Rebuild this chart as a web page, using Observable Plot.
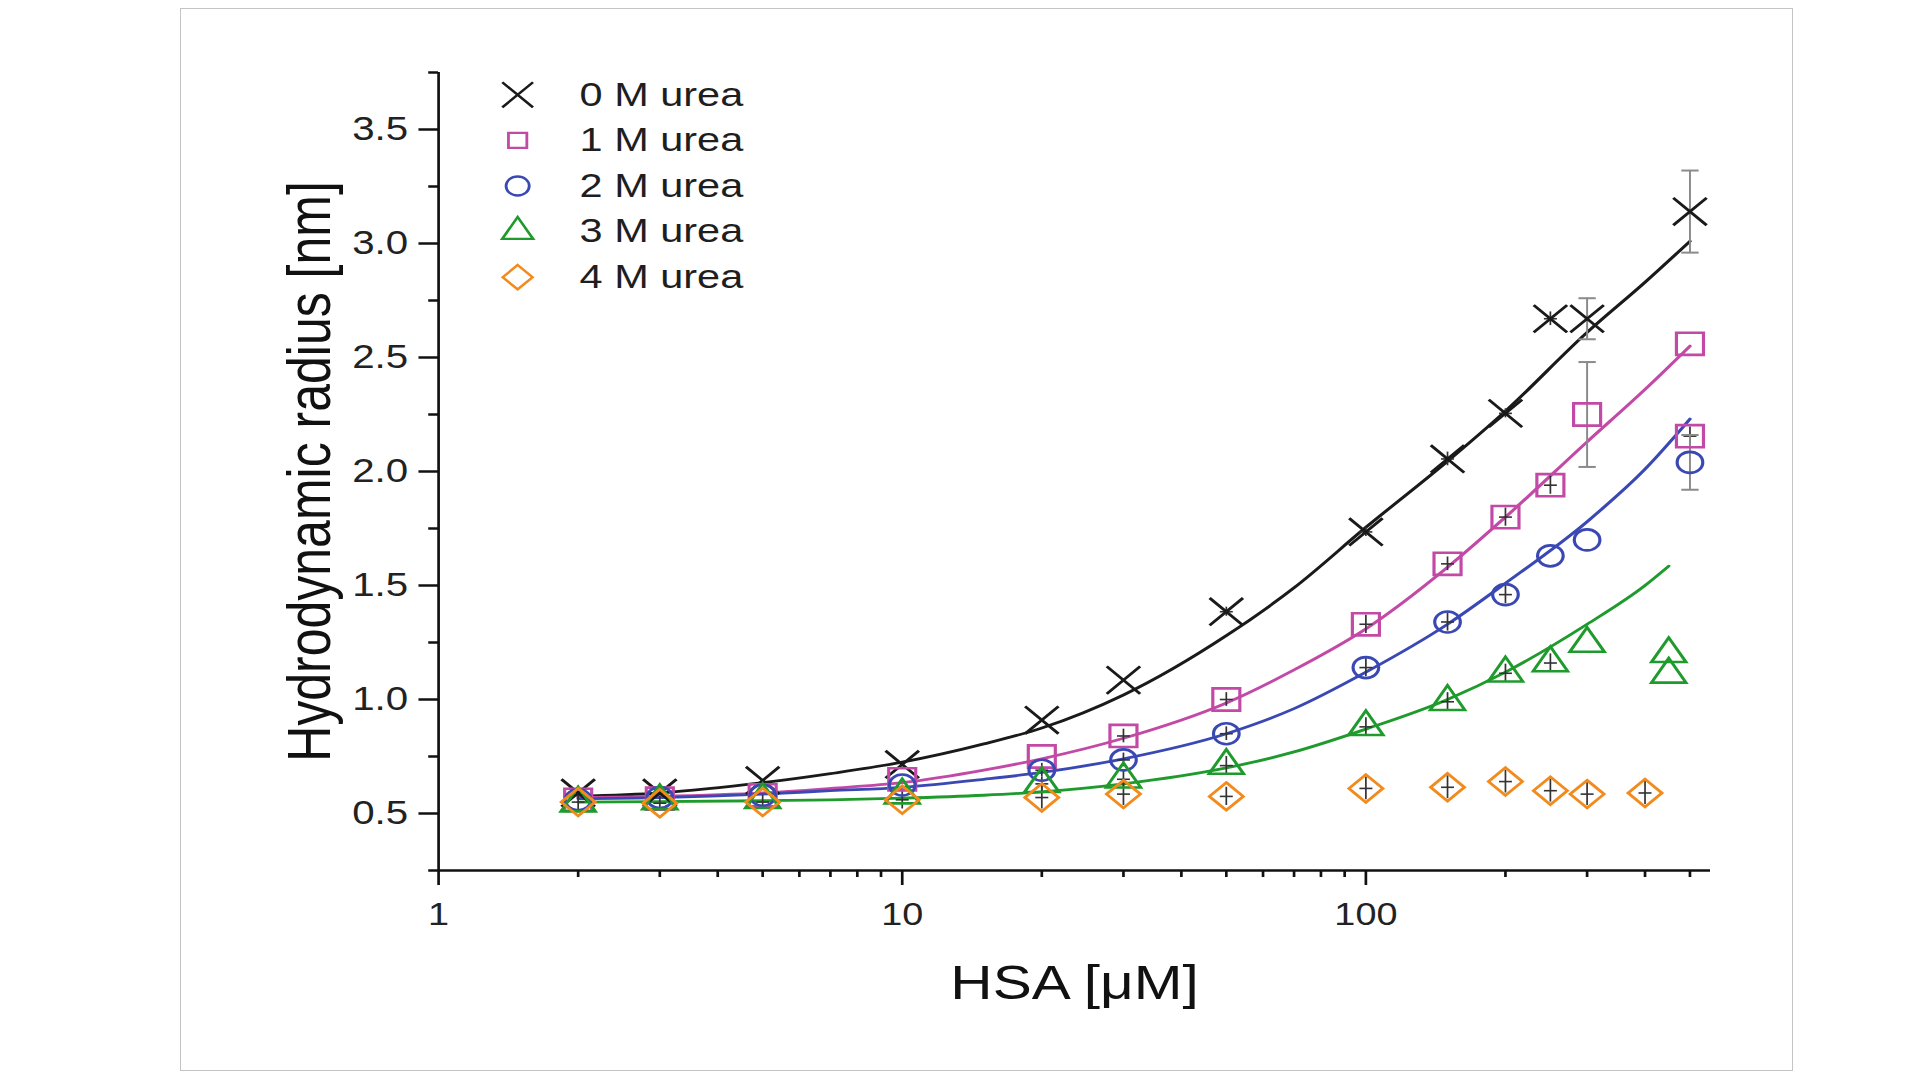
<!DOCTYPE html>
<html>
<head>
<meta charset="utf-8">
<script src="https://cdn.jsdelivr.net/npm/d3@7"></script>
<script src="https://cdn.jsdelivr.net/npm/@observablehq/plot@0.6"></script>
<style>
  html, body { margin: 0; padding: 0; background: #fff; width: 1920px; height: 1080px; overflow: hidden; }
  #frame { position: absolute; left: 180px; top: 8px; width: 1613px; height: 1063px; box-sizing: border-box; border: 1.5px solid #c4c4c4; }
  #chart { position: absolute; left: 0; top: 0; transform: scaleX(1.22); transform-origin: 0 0; }
</style>
</head>
<body>
<div id="frame"></div>
<div id="chart"></div>
<script>
// ---------- data ----------
const seriesNames = ["0 M urea", "1 M urea", "2 M urea", "3 M urea", "4 M urea"];
const seriesColors = ["#1a1a1a", "#c24aa6", "#3a48b4", "#1f9a2c", "#f28a1c"];
const seriesSymbols = ["times", "square", "circle", "triangle", "diamond2"];

const conc0 = [2, 3, 5, 10, 20, 30, 50, 100, 150, 200, 250, 300, 500];
const rh0   = [0.59, 0.59, 0.645, 0.715, 0.91, 1.085, 1.385, 1.735, 2.055, 2.255, 2.67, 2.67, 3.14];
const err0  = [0, 0, 0, 0, 0, 0, 0.02, 0.02, 0.03, 0.02, 0.03, 0.09, 0.18];

const conc1 = [2, 3, 5, 10, 20, 30, 50, 100, 150, 200, 250, 300, 500, 500];
const rh1   = [0.56, 0.565, 0.58, 0.65, 0.75, 0.84, 1.0, 1.33, 1.595, 1.80, 1.94, 2.25, 2.56, 2.155];
const err1  = [0, 0, 0, 0, 0, 0.03, 0.03, 0.04, 0.03, 0.04, 0.04, 0.23, 0, 0.04];

const conc2 = [2, 3, 5, 10, 20, 30, 50, 100, 150, 200, 250, 300, 500];
const rh2   = [0.56, 0.57, 0.58, 0.625, 0.69, 0.735, 0.85, 1.14, 1.34, 1.46, 1.63, 1.70, 2.04];
const err2  = [0, 0, 0, 0, 0.03, 0.03, 0.03, 0.04, 0.04, 0.04, 0, 0, 0.12];

const conc3 = [2, 3, 5, 10, 20, 30, 50, 100, 150, 200, 250, 300, 450, 450];
const rh3   = [0.545, 0.555, 0.56, 0.58, 0.63, 0.65, 0.71, 0.88, 0.99, 1.115, 1.16, 1.245, 1.20, 1.11];
const err3  = [0, 0, 0, 0, 0.03, 0.04, 0.04, 0.04, 0.04, 0.04, 0.04, 0, 0, 0];

const conc4 = [2, 3, 5, 10, 20, 30, 50, 100, 150, 200, 250, 300, 400];
const rh4   = [0.55, 0.545, 0.55, 0.56, 0.57, 0.585, 0.575, 0.61, 0.615, 0.64, 0.60, 0.585, 0.59];
const err4  = [0.04, 0.03, 0.03, 0.04, 0.05, 0.05, 0.04, 0.05, 0.05, 0.05, 0.05, 0.05, 0.05];

// fitted curves (0–3 M urea)
const fitConc = [2, 3, 5, 7, 10, 15, 20, 30, 50, 70, 100, 150, 200, 300, 400, 500];
const fit0 = [0.575, 0.59, 0.635, 0.675, 0.725, 0.805, 0.875, 1.02, 1.28, 1.49, 1.755, 2.045, 2.265, 2.61, 2.83, 3.01];
const fit1 = [0.57, 0.575, 0.59, 0.61, 0.635, 0.69, 0.74, 0.83, 0.985, 1.13, 1.31, 1.58, 1.80, 2.13, 2.36, 2.55];
const fit2 = [0.565, 0.57, 0.585, 0.60, 0.615, 0.65, 0.68, 0.74, 0.85, 0.96, 1.12, 1.33, 1.51, 1.78, 2.01, 2.23];
const fitConc3 = [2, 3, 5, 7, 10, 15, 20, 30, 50, 70, 100, 150, 200, 300, 400, 450];
const fit3 = [0.55, 0.552, 0.556, 0.56, 0.567, 0.58, 0.595, 0.63, 0.70, 0.77, 0.87, 1.00, 1.12, 1.33, 1.50, 1.585];

const xMajorTicks = [1, 10, 100];
const xMinorTicks = [2, 3, 4, 5, 6, 7, 8, 9, 20, 30, 40, 50, 60, 70, 80, 90, 200, 300, 400, 500];
const yMajorTicks = [0.5, 1.0, 1.5, 2.0, 2.5, 3.0, 3.5];
const yMinorTicks = [0.25, 0.75, 1.25, 1.75, 2.25, 2.75, 3.25, 3.75];

const xTitle = "HSA [μM]";
const yTitle = "Hydrodynamic radius [nm]";

// ---------- build tables ----------
const concs = [conc0, conc1, conc2, conc3, conc4];
const rhs = [rh0, rh1, rh2, rh3, rh4];
const errs = [err0, err1, err2, err3, err4];
const fits = [[fitConc, fit0], [fitConc, fit1], [fitConc, fit2], [fitConc3, fit3]];
const markerR = [12.5, 12.5, 10.5, 10.5, 12.5];
const legendR = [11.5, 8.5, 9.5, 9.4, 11];

const points = seriesNames.map((s, i) => concs[i].map((c, j) => ({s, c, v: rhs[i][j], e: errs[i][j]})));
const fitRows = fits.map(([cs, vs], i) => cs.map((c, j) => ({s: seriesNames[i], c, v: vs[j]})));

const hline = {draw(context, size) { const w = Math.sqrt(size) / 2; context.moveTo(-w, 0); context.lineTo(w, 0); }};

const SX = 1.22;
const W = Math.round(1920 / SX);
const H = 1080;

const marks = [];

// axis lines
marks.push(Plot.ruleY([0.25], {stroke: "#111", strokeWidth: 2.5}));
marks.push(Plot.ruleX([1], {stroke: "#111", strokeWidth: 2.2}));

// axes
marks.push(Plot.axisX(xMajorTicks, {tickSize: 15, tickPadding: 17, fontSize: 31, tickFormat: d => String(d), stroke: "#111", strokeWidth: 2.2, fill: "#222", label: null}));
marks.push(Plot.axisX(xMinorTicks, {tickSize: 7, tickFormat: () => "", stroke: "#111", strokeWidth: 2.2, label: null}));
marks.push(Plot.axisY(yMajorTicks, {tickSize: 16, tickPadding: 9, fontSize: 33, tickFormat: d3.format(".1f"), stroke: "#111", strokeWidth: 2.5, fill: "#222", label: null}));
marks.push(Plot.axisY(yMinorTicks, {tickSize: 8, tickFormat: () => "", stroke: "#111", strokeWidth: 2.5, label: null}));

// fit lines
fitRows.forEach((rows, i) => {
  marks.push(Plot.line(rows, {x: "c", y: "v", stroke: seriesColors[i], strokeWidth: 2.8, curve: "monotone-x"}));
});

// error bars
points.forEach((rows) => {
  const withErr = rows.filter(d => d.e > 0);
  const big = withErr.filter(d => d.e > 0.06);
  const small = withErr.filter(d => d.e <= 0.06);
  marks.push(Plot.ruleX(big, {x: "c", y1: d => d.v - d.e, y2: d => d.v + d.e, stroke: "#8a8a8a", strokeWidth: 1.6}));
  marks.push(Plot.dot(big, {x: "c", y: d => d.v + d.e, symbol: hline, r: 8, stroke: "#8a8a8a", strokeWidth: 2}));
  marks.push(Plot.dot(big, {x: "c", y: d => d.v - d.e, symbol: hline, r: 8, stroke: "#8a8a8a", strokeWidth: 2}));
  marks.push(Plot.ruleX(small, {x: "c", y1: d => d.v - d.e, y2: d => d.v + d.e, stroke: "#333", strokeWidth: 1.4}));
  marks.push(Plot.dot(small, {x: "c", y: "v", symbol: hline, r: 6, stroke: "#333", strokeWidth: 1.6}));
});

// markers
points.forEach((rows, i) => {
  marks.push(Plot.dot(rows, {x: "c", y: "v", symbol: seriesSymbols[i], r: markerR[i], stroke: seriesColors[i], fill: "none", strokeWidth: 2.6}));
});

// legend
seriesNames.forEach((name, i) => {
  const dy = 22.3 + 45.6 * i;
  marks.push(Plot.dot([name], {frameAnchor: "top-left", dx: 64.8, dy, symbol: seriesSymbols[i], r: legendR[i], stroke: seriesColors[i], fill: "none", strokeWidth: 2.3}));
  marks.push(Plot.text([name], {text: d => d, frameAnchor: "top-left", lineAnchor: "middle", dx: 115.6, dy, textAnchor: "start", fontSize: 34, fill: "#1e1e1e"}));
});

// axis titles
marks.push(Plot.text([yTitle], {text: d => d, frameAnchor: "left", rotate: -90, dx: -89.3, lineAnchor: "bottom", textAnchor: "middle", fontSize: 50, fill: "#111"}));
marks.push(Plot.text([xTitle], {text: d => d, frameAnchor: "bottom", dy: 128, lineAnchor: "bottom", textAnchor: "middle", fontSize: 48, fill: "#111"}));

const chart = Plot.plot({
  width: W,
  height: H,
  marginLeft: 359,
  marginRight: W - 1710 / SX,
  marginTop: 72,
  marginBottom: 210,
  style: {fontFamily: "'Liberation Sans', Arial, Helvetica, sans-serif", background: "transparent", overflow: "visible"},
  x: {type: "log", domain: [1, 554], label: null},
  y: {domain: [0.25, 3.75], label: null},
  marks
});
document.getElementById("chart").appendChild(chart);
</script>
</body>
</html>
